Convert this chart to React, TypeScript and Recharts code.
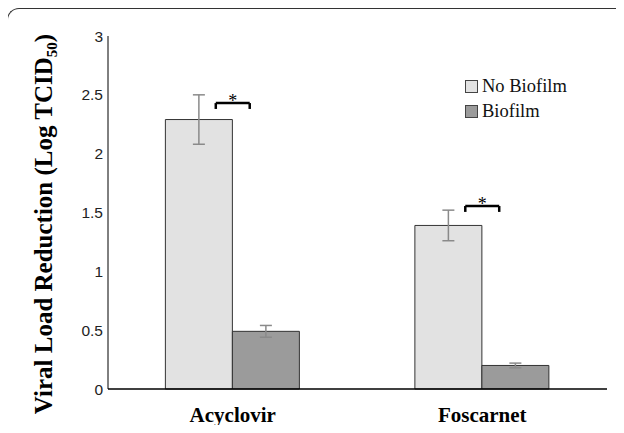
import React from "react";
import {
  BarChart,
  Bar,
  XAxis,
  YAxis,
  ErrorBar,
  Legend,
  ReferenceLine,
  Label,
} from "recharts";

const drugs = ["Acyclovir", "Foscarnet"];
const noBiofilm = [2.29, 1.39];
const noBiofilmErr = [0.21, 0.13];
const biofilm = [0.49, 0.2];
const biofilmErr = [0.05, 0.02];
const yTicks = [0, 0.5, 1, 1.5, 2, 2.5, 3];

// significance brackets, x on a hidden 0..1 numeric axis (category centres at 0.25, 0.75)
const sigCentres = [0.25, 0.75];
const sigHeights = [2.43, 1.555];
const sigHalf = 0.034;
const sigLeg = 0.05;

const data = drugs.map((name, i) => ({
  name,
  noBiofilm: noBiofilm[i],
  noBiofilmErr: noBiofilmErr[i],
  biofilm: biofilm[i],
  biofilmErr: biofilmErr[i],
}));

const serif = "'Liberation Serif', 'Times New Roman', serif";
const sans = "'Liberation Sans', Arial, sans-serif";

const legendItems = [
  { label: "No Biofilm", fill: "#e2e2e2" },
  { label: "Biofilm", fill: "#9b9b9b" },
];

function LegendBox() {
  return (
    <div
      style={{
        position: "absolute",
        left: 0,
        top: 0,
        width: 140,
        fontFamily: serif,
        fontSize: 18.5,
        color: "#111",
      }}
    >
      {legendItems.map((it) => (
        <div
          key={it.label}
          style={{ display: "flex", alignItems: "center", height: 25 }}
        >
          <span
            style={{
              display: "inline-block",
              width: 11,
              height: 11,
              background: it.fill,
              border: "1px solid #444",
              marginRight: 4,
            }}
          />
          {it.label}
        </div>
      ))}
    </div>
  );
}

function YTitle() {
  return (
    <text
      x={52}
      y={224}
      transform="rotate(-90, 52, 224)"
      textAnchor="middle"
      fontFamily={serif}
      fontWeight="bold"
      fontSize={25}
      fill="#000"
    >
      Viral Load Reduction (Log TCID
      <tspan fontSize={15} dy={5}>
        50
      </tspan>
      <tspan dy={-5}>)</tspan>
    </text>
  );
}

export default function App() {
  return (
    <div style={{ position: "relative", width: 624, height: 433, margin: -8 }}>
      <div
        style={{
          position: "absolute",
          left: 7,
          top: 8,
          width: 660,
          height: 460,
          borderTop: "1px solid #333",
          borderLeft: "1px solid #333",
          borderTopLeftRadius: 12,
          boxSizing: "border-box",
        }}
      />
      <div style={{ position: "absolute", left: 0, top: 0 }}>
        <BarChart
          width={624}
          height={433}
          data={data}
          margin={{ top: 36, right: 17, bottom: 4, left: 48 }}
          barGap={0}
          barCategoryGap="23%"
        >
          <XAxis
            dataKey="name"
            axisLine={{ stroke: "#000", strokeWidth: 1.5 }}
            tickLine={false}
            height={40}
            tickMargin={12}
            tick={{
              fill: "#000",
              fontFamily: serif,
              fontWeight: "bold",
              fontSize: 21,
            }}
          />
          <XAxis
            xAxisId="sig"
            type="number"
            domain={[0, 1]}
            allowDataOverflow
            hide
          />
          <YAxis
            domain={[0, 3]}
            ticks={yTicks}
            width={60}
            axisLine={{ stroke: "#000", strokeWidth: 1 }}
            tickLine={false}
            tick={{ fill: "#222", fontFamily: sans, fontSize: 15.5, dx: 3 }}
          >
            <Label content={<YTitle />} />
          </YAxis>
          <Legend
            content={<LegendBox />}
            verticalAlign="top"
            wrapperStyle={{
              position: "absolute",
              left: 465,
              top: 74,
              width: 0,
              height: 0,
              overflow: "visible",
            }}
          />
          <Bar
            dataKey="noBiofilm"
            name="No Biofilm"
            fill="#e2e2e2"
            stroke="#333"
            strokeWidth={1}
            isAnimationActive={false}
          >
            <ErrorBar
              dataKey="noBiofilmErr"
              width={6}
              stroke="#8a8a8a"
              strokeWidth={1.5}
              direction="y"
            />
          </Bar>
          <Bar
            dataKey="biofilm"
            name="Biofilm"
            fill="#9b9b9b"
            stroke="#333"
            strokeWidth={1}
            isAnimationActive={false}
          >
            <ErrorBar
              dataKey="biofilmErr"
              width={6}
              stroke="#8a8a8a"
              strokeWidth={1.5}
              direction="y"
            />
          </Bar>
          {sigCentres.map((c, i) => (
            <ReferenceLine
              key={`h${i}`}
              xAxisId="sig"
              segment={[
                { x: c - sigHalf, y: sigHeights[i] },
                { x: c + sigHalf, y: sigHeights[i] },
              ]}
              stroke="#000"
              strokeWidth={2.5}
              label={{
                value: "*",
                position: "center",
                dy: -2,
                fill: "#000",
                fontFamily: serif,
                fontSize: 18,
              }}
            />
          ))}
          {sigCentres.map((c, i) => (
            <ReferenceLine
              key={`l${i}`}
              xAxisId="sig"
              segment={[
                { x: c - sigHalf, y: sigHeights[i] },
                { x: c - sigHalf, y: sigHeights[i] - sigLeg },
              ]}
              stroke="#000"
              strokeWidth={2.5}
            />
          ))}
          {sigCentres.map((c, i) => (
            <ReferenceLine
              key={`r${i}`}
              xAxisId="sig"
              segment={[
                { x: c + sigHalf, y: sigHeights[i] },
                { x: c + sigHalf, y: sigHeights[i] - sigLeg },
              ]}
              stroke="#000"
              strokeWidth={2.5}
            />
          ))}
        </BarChart>
      </div>
    </div>
  );
}
